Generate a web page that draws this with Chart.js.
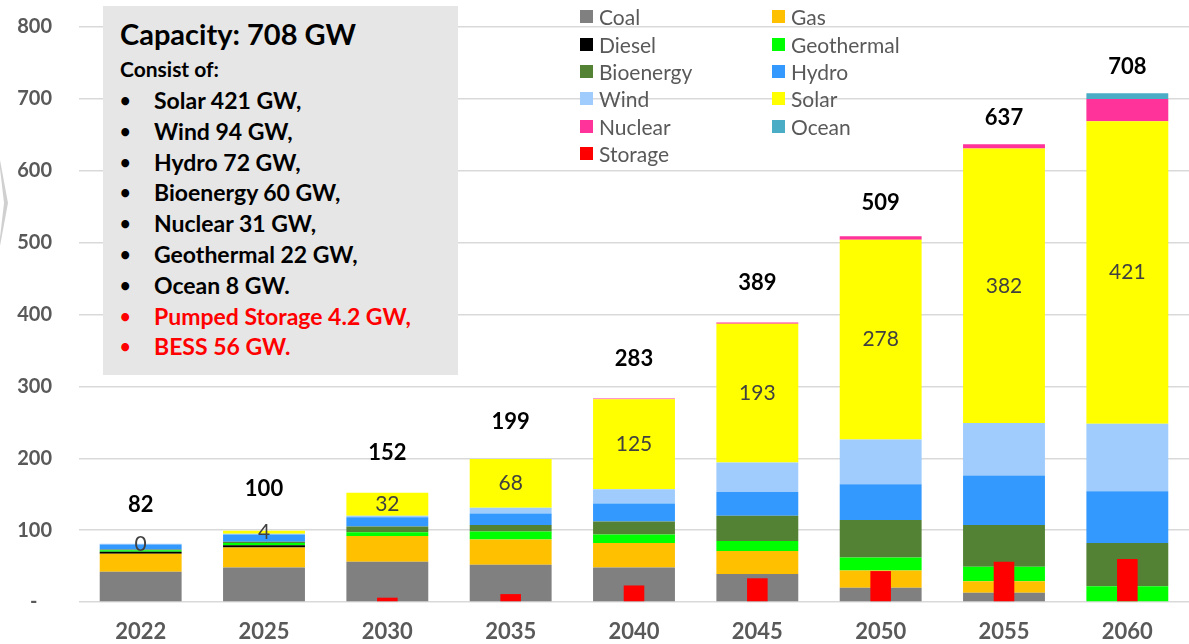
<!DOCTYPE html>
<html>
<head>
<meta charset="utf-8">
<script src="https://cdn.jsdelivr.net/npm/chart.js@4"></script>
<style>
  body { margin: 0; background: #fff; font-family: Lato, sans-serif; }
  #wrap { position: relative; width: 1189px; height: 644px; overflow: hidden; }
  #chart { position: absolute; left: 0; top: 0; }
  #chevron { position: absolute; left: 0; top: 160px; width: 8px; height: 86px; background: #d0d0d0;
    clip-path: polygon(0 0, 100% 50%, 0 100%, 0 90%, 50% 50%, 0 10%); }
  #infoBox { position: absolute; left: 103px; top: 6px; width: 355px; height: 369px; background: #e7e6e6;
    font-weight: bold; color: #000; }
  #infoBox .title { position: absolute; left: 17px; top: 10px; font-size: 29px; }
  #infoBox .sub { position: absolute; left: 17px; top: 50px; font-size: 21px; }
  #infoBox ul { position: absolute; left: 17px; top: 79px; margin: 0; padding: 0; list-style: none; font-size: 23px; }
  #infoBox li { height: 30.8px; line-height: 30px; position: relative; padding-left: 34px; }
  #infoBox li::before { content: '\2022'; position: absolute; left: 0; font-size: 18px; }
  #infoBox li.red { color: #ff0000; }
  #legend { position: absolute; left: 580px; top: 3px; display: grid; grid-template-columns: 192px 160px; row-gap: 0; }
  #legend div { height: 27.4px; display: flex; align-items: center; font-size: 21px; color: #595959; white-space: nowrap; }
  #legend span { display: inline-block; width: 13px; height: 13px; margin-right: 6px; }
</style>
</head>
<body>
<div id="wrap">
  <canvas id="chart" width="1189" height="644"></canvas>
  <div id="chevron"></div>
  <div id="infoBox">
    <div class="title">Capacity: 708 GW</div>
    <div class="sub">Consist of:</div>
    <ul>
      <li>Solar 421 GW,</li>
      <li>Wind 94 GW,</li>
      <li>Hydro 72 GW,</li>
      <li>Bioenergy 60 GW,</li>
      <li>Nuclear 31 GW,</li>
      <li>Geothermal 22 GW,</li>
      <li>Ocean 8 GW.</li>
      <li class="red">Pumped Storage 4.2 GW,</li>
      <li class="red">BESS 56 GW.</li>
    </ul>
  </div>
  <div id="legend"></div>
</div>
<script>
const years = ['2022', '2025', '2030', '2035', '2040', '2045', '2050', '2055', '2060'];

const coal       = [42, 48, 56, 52, 48, 39, 20, 13, 0];
const gas        = [25, 28, 36, 35, 34, 32, 24, 16, 0];
const diesel     = [3, 3, 0, 0, 0, 0, 0, 0, 0];
const geothermal = [2, 3, 5, 11, 12, 14, 18, 20, 22];
const bioenergy  = [1, 2, 8, 9, 18, 35, 52, 58, 60];
const hydro      = [7, 10, 13, 16, 25, 33, 50, 69, 72];
const wind       = [1, 1, 2, 8, 20, 41, 62, 73, 94];
const solar      = [0, 4, 32, 68, 125, 193, 278, 382, 421];
const nuclear    = [0, 0, 0, 0, 1, 2, 5, 6, 31];
const ocean      = [0, 0, 0, 0, 0, 0, 0, 0, 8];
const storage    = [0, 0, 6, 11, 23, 33, 43, 56, 60];
const totals     = [82, 100, 152, 199, 283, 389, 509, 637, 708];

const yTicks = [0, 100, 200, 300, 400, 500, 600, 700, 800];

// how far above the bar top each total label sits (px)
const totalLift = [38, 41, 40, 37, 40, 40, 33, 26, 26];

const series = [
  { label: 'Coal', data: coal, color: '#808080' },
  { label: 'Gas', data: gas, color: '#ffc000' },
  { label: 'Diesel', data: diesel, color: '#000000' },
  { label: 'Geothermal', data: geothermal, color: '#00ff00' },
  { label: 'Bioenergy', data: bioenergy, color: '#548235' },
  { label: 'Hydro', data: hydro, color: '#3399ff' },
  { label: 'Wind', data: wind, color: '#9fccfc' },
  { label: 'Solar', data: solar, color: '#ffff00' },
  { label: 'Nuclear', data: nuclear, color: '#ff3399' },
  { label: 'Ocean', data: ocean, color: '#4bacc6' }
];

const datasets = series.map(s => ({
  label: s.label,
  data: s.data,
  backgroundColor: s.color,
  borderWidth: 0,
  barPercentage: 0.664,
  categoryPercentage: 1,
  grouped: false,
  xAxisID: 'x',
  stack: 'mix'
}));

// storage sits as a thin bar in front of each stack
datasets.push({
  label: 'Storage',
  data: storage,
  backgroundColor: '#ff0000',
  borderWidth: 0,
  barPercentage: 0.167,
  categoryPercentage: 1,
  grouped: false,
  xAxisID: 'x2',
  stack: 'storage',
  order: -1
});

const legendEl = document.getElementById('legend');
datasets.forEach(d => {
  const item = document.createElement('div');
  item.innerHTML = `<span style="background:${d.backgroundColor}"></span>${d.label}`;
  legendEl.appendChild(item);
});

const labelPlugin = {
  id: 'barLabels',
  afterDatasetsDraw(chart) {
    const ctx = chart.ctx;
    const yScale = chart.scales.y;
    ctx.save();
    ctx.textAlign = 'center';
    ctx.textBaseline = 'middle';

    const solarMeta = chart.getDatasetMeta(7);
    ctx.font = '21px Lato';
    ctx.fillStyle = '#404040';
    solarMeta.data.forEach((el, i) => {
      ctx.fillText(String(solar[i]), el.x, (el.y + el.base) / 2);
    });

    ctx.font = 'bold 22px Lato';
    ctx.fillStyle = '#000';
    solarMeta.data.forEach((el, i) => {
      ctx.fillText(String(totals[i]), el.x, yScale.getPixelForValue(totals[i]) - totalLift[i]);
    });
    ctx.restore();
  }
};

new Chart(document.getElementById('chart'), {
  type: 'bar',
  data: { labels: years, datasets: datasets },
  plugins: [labelPlugin],
  options: {
    responsive: false,
    animation: false,
    layout: { padding: { top: 27, right: 0, left: 0, bottom: 0 } },
    plugins: { legend: { display: false }, tooltip: { enabled: false } },
    scales: {
      x: {
        stacked: true,
        afterFit: s => { s.height = 42; },
        grid: { display: false, drawTicks: false },
        border: { display: false },
        ticks: { color: '#595959', font: { family: 'Lato', size: 22, weight: 'bold' }, padding: 17 }
      },
      x2: {
        type: 'category',
        labels: years,
        offset: true,
        display: false,
        stacked: true,
        grid: { display: false }
      },
      y: {
        stacked: true,
        min: 0,
        max: 800,
        afterFit: s => { s.width = 79; s.paddingTop = 0; s.paddingBottom = 0; },
        afterBuildTicks: s => { s.ticks = yTicks.map(v => ({ value: v })); },
        border: { display: false },
        grid: { color: '#d9d9d9', lineWidth: 1.5, drawTicks: false },
        ticks: {
          color: '#595959',
          padding: 27,
          font: { family: 'Lato', size: 20, weight: 'bold' },
          callback: v => v === 0 ? '-   ' : v
        }
      }
    }
  }
});
</script>
</body>
</html>
